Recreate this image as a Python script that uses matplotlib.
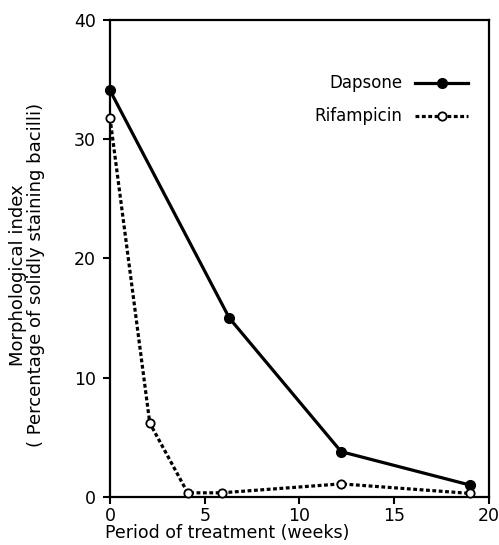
import matplotlib
matplotlib.use("Agg")
import matplotlib.pyplot as plt

weeks_dapsone = [0, 6.3, 12.2, 19.0]
dapsone = [34.1, 15.0, 3.8, 1.0]
weeks_rif = [0, 2.1, 4.1, 5.9, 12.2, 19.0]
rifampicin = [31.8, 6.2, 0.35, 0.35, 1.1, 0.3]
xticks = [0, 5, 10, 15, 20]
yticks = [0, 10, 20, 30, 40]

plt.rcParams['font.family'] = ['DejaVu Sans']
fig = plt.figure(figsize=(4.99, 5.45), dpi=100)
ax = fig.add_axes([0.2204, 0.0881, 0.7595, 0.8752])

ax.plot(weeks_dapsone, dapsone, '-', color='black', lw=2.3, marker='o',
        ms=7, mfc='black', mec='black', label='Dapsone', clip_on=False, zorder=3)
ax.plot(weeks_rif, rifampicin, linestyle=(0, (1.2, 0.8)), color='black', lw=2.3,
        marker='o', ms=6, mfc='white', mec='black', mew=1.3, label='Rifampicin',
        clip_on=False, zorder=3)

ax.set_xlim(0, 20)
ax.set_ylim(0, 40)
ax.set_xticks(xticks)
ax.set_yticks(yticks)
ax.tick_params(direction='out', length=5, width=1.5, labelsize=12.5)
ax.tick_params(axis='x', pad=2)
ax.tick_params(axis='y', pad=5)
for s in ax.spines.values():
    s.set_linewidth(1.6)

ax.set_xlabel('Period of treatment (weeks)', fontsize=12.5)
ax.xaxis.set_label_coords(0.31, -0.057)
ax.set_ylabel('Morphological index\n( Percentage of solidly staining bacilli)',
              fontsize=13, linespacing=1.0)
ax.yaxis.set_label_coords(-0.172, 0.465)

leg = ax.legend(loc='upper right', bbox_to_anchor=(0.962, 0.9), frameon=False,
                markerfirst=False, handlelength=3.15, handletextpad=0.8,
                labelspacing=0.9, fontsize=12, borderaxespad=0)

fig.savefig('out.png', dpi=100)
